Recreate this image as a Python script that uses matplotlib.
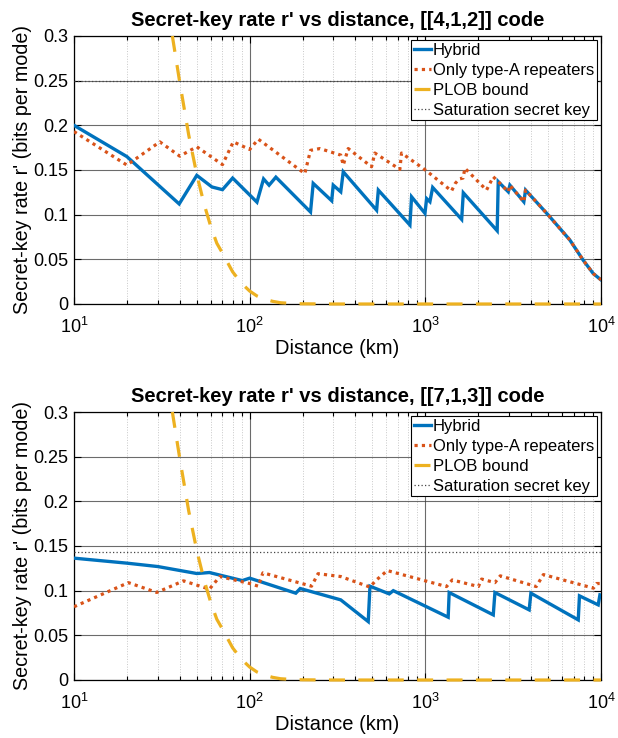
import matplotlib
matplotlib.use("Agg")
import matplotlib.pyplot as plt
from matplotlib.ticker import LogLocator, NullFormatter

plt.rcParams['font.family'] = ['Liberation Sans', 'DejaVu Sans']
plt.rcParams['mathtext.fontset'] = 'custom'
plt.rcParams['mathtext.rm'] = 'Liberation Sans'
plt.rcParams['mathtext.it'] = 'Liberation Sans:italic'

# ---------------- data: [[4,1,2]] code ----------------
top_hyb_x = [10, 20, 39.7, 50, 61, 70, 80, 110, 120, 129, 141, 222, 230, 293, 299, 330, 341,
             528, 540, 817, 835, 995, 1017, 1062, 1101, 1610, 1645, 2564, 2600, 2966, 3030,
             3637, 3720, 5010, 6650, 7920, 9040, 10000]
top_hyb_y = [0.200, 0.165, 0.112, 0.144, 0.131, 0.128, 0.141, 0.114, 0.140, 0.133, 0.142,
             0.103, 0.135, 0.1156, 0.133, 0.1256, 0.148, 0.105, 0.1275, 0.0884, 0.120,
             0.1015, 0.118, 0.1145, 0.1305, 0.0947, 0.1245, 0.082, 0.137, 0.1256, 0.133,
             0.1144, 0.1275, 0.0996, 0.0716, 0.049, 0.034, 0.027]

top_A_x = [10, 20, 30.8, 40, 50, 70, 80.7, 100, 112, 206, 222, 251, 330, 341, 364, 494, 516,
           716, 732, 1000, 1410, 1480, 1560, 1640, 1680, 2230, 2436, 2600, 2966, 3030,
           3637, 3720, 5010, 6650, 7920, 9040, 10000]
top_A_y = [0.193, 0.1555, 0.1815, 0.1655, 0.176, 0.156, 0.1815, 0.173, 0.1845, 0.146, 0.172,
           0.174, 0.1667, 0.1555, 0.174, 0.1536, 0.169, 0.1507, 0.169, 0.150, 0.1265,
           0.135, 0.140, 0.141, 0.152, 0.1275, 0.1424, 0.137, 0.1256, 0.133,
           0.1144, 0.1275, 0.0996, 0.0716, 0.049, 0.034, 0.027]

top_sat = 0.25

# ---------------- data: [[7,1,3]] code ----------------
bot_hyb_x = [10, 20, 30, 50, 59, 90.8, 100, 183, 194, 330, 473, 484, 623, 657, 1349, 1367,
             2436, 2490, 3900, 3990, 7420, 7540, 9640, 9860, 10000]
bot_hyb_y = [0.1364, 0.1308, 0.127, 0.1192, 0.1203, 0.1113, 0.114, 0.0972, 0.1024, 0.0897,
             0.0654, 0.105, 0.0964, 0.100, 0.0703, 0.0979, 0.0729, 0.0979, 0.0785, 0.0972,
             0.0673, 0.0942, 0.0841, 0.0953, 0.095]

bot_A_x = [10, 20.4, 29.6, 42, 59, 67.6, 100, 112, 119, 225, 245, 330, 484, 520, 607,
           1320, 1423, 2006, 2090, 2490, 2670, 4280, 4700, 9060, 9450, 10000]
bot_A_y = [0.082, 0.109, 0.098, 0.111, 0.1017, 0.1158, 0.108, 0.105, 0.120, 0.105, 0.119,
           0.1158, 0.104, 0.111, 0.1225, 0.1046, 0.112, 0.1046, 0.113, 0.109, 0.1166,
           0.1046, 0.118, 0.1028, 0.108, 0.108]

bot_sat = 0.143

# PLOB bound (same for both panels)
plob_x = [36.3, 40, 45, 50, 55, 60, 65, 70, 80, 90, 100, 110, 120, 135, 150, 175, 200,
          300, 1000, 10000]
plob_y = [0.300, 0.248, 0.189, 0.145, 0.112, 0.087, 0.068, 0.057, 0.036, 0.023, 0.0145,
          0.009, 0.0058, 0.003, 0.0014, 0.0006, 0.0002, 0.0, 0.0, 0.0]

titles = ["Secret-key rate r' vs distance, [[4,1,2]] code",
          "Secret-key rate r' vs distance, [[7,1,3]] code"]
legend_labels = ["Hybrid", "Only type-A repeaters", "PLOB bound", "Saturation secret key"]
ytick_vals = [0, 0.05, 0.1, 0.15, 0.2, 0.25, 0.3]
ytick_labels = ["0", "0.05", "0.1", "0.15", "0.2", "0.25", "0.3"]
xlabel = "Distance (km)"
ylabel = "Secret-key rate r' (bits per mode)"

C_BLUE = '#0072BD'
C_ORANGE = '#D95319'
C_YELLOW = '#EDB120'

fig = plt.figure(figsize=(6.18, 7.38), dpi=100)
ax1 = fig.add_axes([74/618, 1-304/738, 527/618, 268/738])
ax2 = fig.add_axes([74/618, 1-680/738, 527/618, 268/738])

panels = [
    (ax1, top_hyb_x, top_hyb_y, top_A_x, top_A_y, top_sat, titles[0]),
    (ax2, bot_hyb_x, bot_hyb_y, bot_A_x, bot_A_y, bot_sat, titles[1]),
]

for ax, hx, hy, ax_, ay, sat, title in panels:
    ax.set_xscale('log')
    ax.set_xlim(10, 1e4)
    ax.set_ylim(0, 0.3)
    # grid
    ax.grid(True, which='major', color='#3a3a3a', linewidth=0.8, alpha=0.75, zorder=0)
    ax.grid(True, which='minor', axis='x', color='#c8c8c8', linestyle=':', linewidth=0.7, zorder=0)
    ax.set_axisbelow(True)

    l1, = ax.plot(hx, hy, color=C_BLUE, lw=2.4, solid_joinstyle='miter', zorder=3)
    l2, = ax.plot(ax_, ay, color=C_ORANGE, lw=2.3, linestyle=(0, (1.0, 1.3)), zorder=4)
    l3, = ax.plot(plob_x, plob_y, color=C_YELLOW, lw=2.3, linestyle=(0, (5.0, 4.2)),
                  zorder=5, clip_on=False)
    l4 = ax.axhline(sat, color='#444444', lw=0.9, linestyle=(0, (1, 1.8)), zorder=6)

    ax.set_yticks(ytick_vals)
    ax.set_yticklabels(ytick_labels)
    ax.xaxis.set_major_locator(LogLocator(base=10, numticks=10))
    ax.xaxis.set_minor_locator(LogLocator(base=10, subs=range(2, 10), numticks=100))
    ax.xaxis.set_minor_formatter(NullFormatter())
    ax.tick_params(which='both', direction='in', top=True, right=True, labelsize=13,
                   color='k', width=0.8)
    ax.tick_params(which='major', length=5)
    ax.tick_params(which='minor', length=3)
    ax.tick_params(axis='x', pad=9)
    ax.tick_params(axis='y', pad=4)
    for sp in ax.spines.values():
        sp.set_linewidth(0.9)
        sp.set_color('k')

    ax.set_title(title, fontsize=14.5, fontweight='bold', pad=7)
    ax.set_xlabel(xlabel, fontsize=14.5, labelpad=1.5)
    ax.set_ylabel(ylabel, fontsize=14.2, labelpad=1)

    leg = ax.legend([l1, l2, l3, l4], legend_labels, loc='upper right', fontsize=12,
                    frameon=True, fancybox=False, framealpha=1, edgecolor='k',
                    borderaxespad=0.25, borderpad=0.15, labelspacing=0.3,
                    handlelength=1.0, handletextpad=0.15)
    leg.get_frame().set_linewidth(0.8)
    leg.set_zorder(10)

fig.savefig('out.png', dpi=100)
